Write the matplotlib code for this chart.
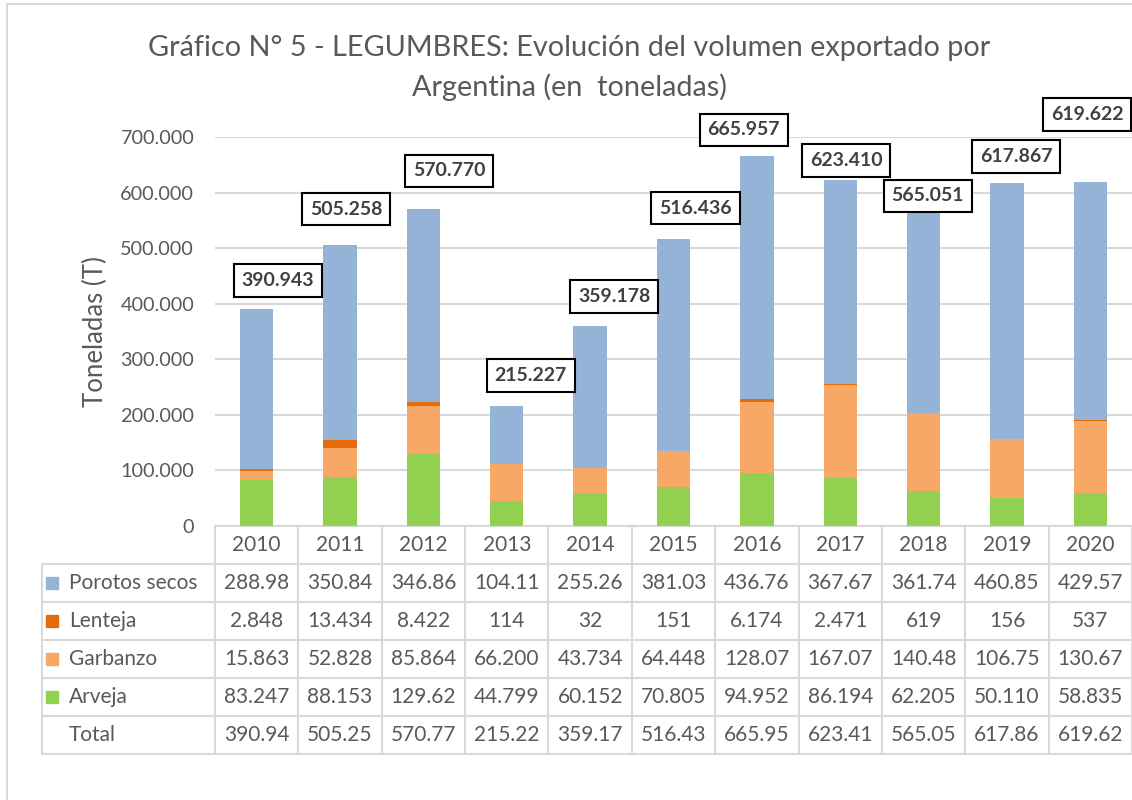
import matplotlib
matplotlib.use("Agg")
import matplotlib.pyplot as plt
from matplotlib.patches import Rectangle
from matplotlib.ticker import FuncFormatter
import numpy as np

# datos (toneladas)
years = ['2010', '2011', '2012', '2013', '2014', '2015', '2016', '2017', '2018', '2019', '2020']
arveja = [83247, 88153, 129620, 44799, 60152, 70805, 94952, 86194, 62205, 50110, 58835]
garbanzo = [15863, 52828, 85864, 66200, 43734, 64448, 128071, 167075, 140487, 106751, 130675]
lenteja = [2848, 13434, 8422, 114, 32, 151, 6174, 2471, 619, 156, 537]
porotos = [288985, 350843, 346864, 104114, 255260, 381032, 436760, 367670, 361740, 460850, 429575]
totales = [390943, 505258, 570770, 215227, 359178, 516436, 665957, 623410, 565051, 617867, 619622]

col_porotos = '#95B3D7'
col_lenteja = '#E46C0A'
col_garbanzo = '#F7A866'
col_arveja = '#92D050'
gris = '#595959'
linea = '#D9D9D9'

# desplazamiento de las etiquetas de total (pixeles)
label_dx = [21, 6, 26, 24, 24, 22, -13, 6, 4, 9, -3]
label_dy = [28, 36, 38, 31, 30, 31, 26, 19, 16, 26, 67]

plt.rcParams['font.family'] = ['Lato', 'DejaVu Sans']

W, H = 1132, 800
fig = plt.figure(figsize=(W / 100, H / 100), dpi=100)
ax_left, ax_bottom, ax_w, ax_h = 215, 526, 917, 389
ax = fig.add_axes([ax_left / W, 1 - ax_bottom / H, ax_w / W, ax_h / H])

x = np.arange(len(years))
bw = 0.4
ax.bar(x, arveja, bw, color=col_arveja, zorder=3)
b1 = np.array(arveja)
ax.bar(x, garbanzo, bw, bottom=b1, color=col_garbanzo, zorder=3)
b2 = b1 + np.array(garbanzo)
ax.bar(x, lenteja, bw, bottom=b2, color=col_lenteja, zorder=3)
b3 = b2 + np.array(lenteja)
ax.bar(x, porotos, bw, bottom=b3, color=col_porotos, zorder=3)

for i, t in enumerate(totales):
    ax.annotate(f"{t:,}".replace(',', '.'), xy=(i, t), xytext=(label_dx[i], label_dy[i]),
                textcoords='offset pixels', ha='center', va='center', fontsize=14,
                fontweight='bold', color='#404040', zorder=5, annotation_clip=False,
                bbox=dict(boxstyle='square,pad=0.4', fc='white', ec='black', lw=1.5))

ax.set_xlim(-0.5, len(years) - 0.5)
ax.set_ylim(0, 700000)
ax.set_yticks(np.arange(0, 700001, 100000))
ax.yaxis.set_major_formatter(FuncFormatter(lambda v, p: f"{int(v):,}".replace(',', '.')))
ax.tick_params(axis='y', length=0, pad=15, labelsize=14.3, labelcolor=gris)
ax.set_xticks([])
ax.yaxis.grid(True, color=linea, lw=1.5)
ax.set_axisbelow(True)
for s in ['top', 'right', 'left']:
    ax.spines[s].set_visible(False)
ax.spines['bottom'].set_color(linea)
ax.spines['bottom'].set_linewidth(1.5)
ax.set_ylabel('Toneladas (T)', fontsize=18.5, color=gris, labelpad=9)

# tabla de datos
tr = ax.get_xaxis_transform()
rh = 38 / ax_h
colw = 83.4
lab_left = -0.5 - (ax_left - 42) / colw
n_rows = 5
bottom = -rh * (n_rows + 1)
fs_tab = 15

for i in range(len(years) + 1):
    ax.plot([i - 0.5, i - 0.5], [0, bottom], transform=tr, color=linea, lw=1.5, clip_on=False)
ax.plot([lab_left, lab_left], [-rh, bottom], transform=tr, color=linea, lw=1.5, clip_on=False)
for r in range(1, n_rows + 2):
    ax.plot([lab_left, len(years) - 0.5], [-rh * r, -rh * r], transform=tr, color=linea,
            lw=1.5, clip_on=False)

for i, y in enumerate(years):
    ax.text(i, -rh * 0.5, y, transform=tr, ha='center', va='center', fontsize=fs_tab, color=gris)

rows = [('Porotos secos', col_porotos, porotos), ('Lenteja', col_lenteja, lenteja),
        ('Garbanzo', col_garbanzo, garbanzo), ('Arveja', col_arveja, arveja),
        ('Total', None, totales)]
key_left = -0.5 - (ax_left - 46) / colw
text_left = -0.5 - (ax_left - 69) / colw
for r, (name, c, vals) in enumerate(rows):
    yc = -rh * (r + 1.5)
    if c is not None:
        ax.add_patch(Rectangle((key_left, yc - 6 / ax_h), 12 / colw, 12 / ax_h, transform=tr,
                               color=c, clip_on=False))
    ax.text(text_left, yc, name, transform=tr, ha='left', va='center', fontsize=fs_tab, color=gris)
    for i, v in enumerate(vals):
        s = f"{v:,}".replace(',', '.')[:6]
        ax.text(i, yc, s, transform=tr, ha='center', va='center', fontsize=fs_tab, color=gris)

fig.text(569 / W, 1 - 48 / H, 'Gráfico N° 5 - LEGUMBRES: Evolución del volumen exportado por',
         ha='center', va='center', fontsize=20.8, color=gris)
fig.text(569 / W, 1 - 87 / H, 'Argentina (en  toneladas)', ha='center', va='center',
         fontsize=20.8, color=gris)

fig.patches.append(Rectangle((7 / W, -0.1), 1.2, 1.1 - 4 / H, transform=fig.transFigure,
                             fill=False, ec=linea, lw=1.5))

fig.savefig('out.png', dpi=100)
